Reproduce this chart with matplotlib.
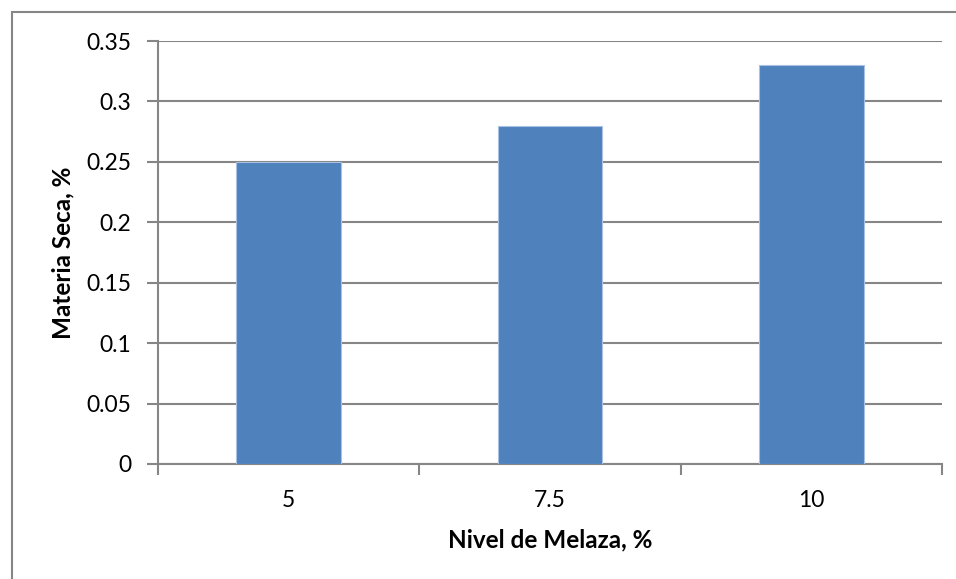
import matplotlib.pyplot as plt
from matplotlib.patches import Rectangle

# Materia seca por nivel de melaza
niveles = ["5", "7.5", "10"]
materia_seca = [0.25, 0.28, 0.33]
y_ticks = [0, 0.05, 0.1, 0.15, 0.2, 0.25, 0.3, 0.35]
y_labels = ["0", "0.05", "0.1", "0.15", "0.2", "0.25", "0.3", "0.35"]

plt.rcParams['font.family'] = ['Lato', 'DejaVu Sans']
grey = '#868686'

fig = plt.figure(figsize=(9.56, 5.79), dpi=100)
fig.patches.append(Rectangle((12 / 956, -0.01), 1.0, 1 - 12 / 579 + 0.01,
                             transform=fig.transFigure, fill=False,
                             edgecolor=grey, linewidth=1.5))

ax = fig.add_axes([158 / 956, 115 / 579, 784 / 956, 423 / 579])
x = range(len(niveles))
ax.bar(x, materia_seca, width=0.4, color='#4F81BD', edgecolor='#A9C1E2',
       linewidth=0.8, zorder=3)

ax.set_xlim(-0.5, 2.5)
ax.set_ylim(0, 0.35)
ax.set_yticks(y_ticks)
ax.set_yticklabels(y_labels, fontsize=16.5)
ax.set_xticks(list(x))
ax.set_xticklabels(niveles, fontsize=16.5)
ax.set_xticks([-0.5, 0.5, 1.5, 2.5], minor=True)

ax.tick_params(axis='x', which='major', length=0, pad=19)
ax.tick_params(axis='x', which='minor', length=8, width=1.5, color=grey)
ax.tick_params(axis='y', length=8, width=1.5, color=grey, pad=11)

ax.grid(axis='y', color=grey, linewidth=1.5, zorder=0)
ax.set_axisbelow(True)
for side in ('top', 'right'):
    ax.spines[side].set_visible(False)
for side in ('left', 'bottom'):
    ax.spines[side].set_color(grey)
    ax.spines[side].set_linewidth(1.5)

ax.set_xlabel("Nivel de Melaza, %", fontsize=17.5, fontweight='bold', va='center')
ax.set_ylabel("Materia Seca, %", fontsize=17.5, fontweight='bold', va='center')
ax.xaxis.set_label_coords(0.5, -76 / 423)
ax.yaxis.set_label_coords(-95 / 784, 0.5)

fig.savefig('out.png', dpi=100)
